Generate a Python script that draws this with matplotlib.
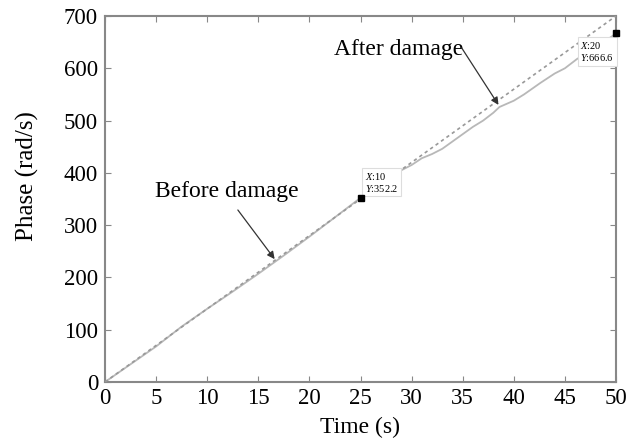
import numpy as np
import matplotlib.pyplot as plt

plt.rcParams['font.family'] = ['Liberation Serif', 'DejaVu Serif']
plt.rcParams['mathtext.fontset'] = 'custom'
plt.rcParams['mathtext.it'] = 'Liberation Serif:italic'
plt.rcParams['mathtext.rm'] = 'Liberation Serif'

# reference (healthy) phase: straight line
t_ref = [0, 50]
phase_ref = [0, 700]

# measured phase
t_meas = [0, 2.5, 5, 7.5, 10, 12.5, 15, 17.5, 20, 22.5, 25,
          27, 29, 30, 31, 32, 33, 34, 35, 36, 37, 38, 38.6,
          40, 41, 42.6, 44, 45, 46.2, 47.5, 50]
phase_meas = [0, 34, 68, 106, 140, 173, 207, 242, 278, 315, 352.2,
              378, 405, 415, 428, 436, 446, 460, 474, 488, 500, 515, 526,
              538, 550, 572, 590, 600, 618, 632, 666.6]

# data tips
tip_x = [25, 50]
tip_y = [352.2, 666.6]
tip_text = [r'$X$:10' + '\n' + r'$Y$:352.2', r'$X$:20' + '\n' + r'$Y$:666.6']

fig = plt.figure(figsize=(6.38, 4.43), dpi=100)
ax = fig.add_axes([105/638, 61/443, 511/638, 366/443])

ax.plot(t_meas, phase_meas, color='#b8b8b8', lw=1.3, zorder=2)
ax.plot(t_ref, phase_ref, color='#999999', lw=1.2, ls=(0, (2, 2)), zorder=3)

ax.plot(tip_x, tip_y, 's', color='black', ms=5, zorder=6, clip_on=False)
ax.text(25.4, 360, tip_text[0], fontsize=7.5, va='bottom', ha='left', zorder=5,
        linespacing=1.1,
        bbox=dict(boxstyle='square,pad=0.25', fc='white', ec='#dddddd', lw=0.8))
ax.text(46.5, 654, tip_text[1], fontsize=7.5, va='top', ha='left', zorder=5,
        linespacing=1.1,
        bbox=dict(boxstyle='square,pad=0.25', fc='white', ec='#dddddd', lw=0.8))

# labels with arrows
arrow = dict(arrowstyle='-|>', color='#333333', lw=0.9,
             shrinkA=0, shrinkB=0, mutation_scale=11)
ax.text(11.9, 365, 'Before damage', fontsize=17, ha='center', va='center')
ax.annotate('', xy=(16.6, 235), xytext=(13.0, 329), arrowprops=arrow)
ax.text(28.7, 636, 'After damage', fontsize=17, ha='center', va='center')
ax.annotate('', xy=(38.5, 530), xytext=(34.9, 639), arrowprops=arrow)

ax.set_xlim(0, 50)
ax.set_ylim(0, 700)
ax.set_xticks(np.arange(0, 51, 5))
ax.set_yticks(np.arange(0, 701, 100))
ax.tick_params(direction='in', length=4, color='#888888', labelsize=16.5,
               top=True, right=True)
ax.tick_params(axis='x', pad=4)
ax.tick_params(axis='y', pad=5)
for s in ax.spines.values():
    s.set_color('#888888')
    s.set_linewidth(1.5)

ax.set_xlabel('Time (s)', fontsize=17)
ax.set_ylabel('Phase (rad/s)', fontsize=18)
ax.xaxis.set_label_coords(0.5, -0.096)
ax.yaxis.set_label_coords(-0.130, 0.563)

fig.savefig('out.png', dpi=100)
